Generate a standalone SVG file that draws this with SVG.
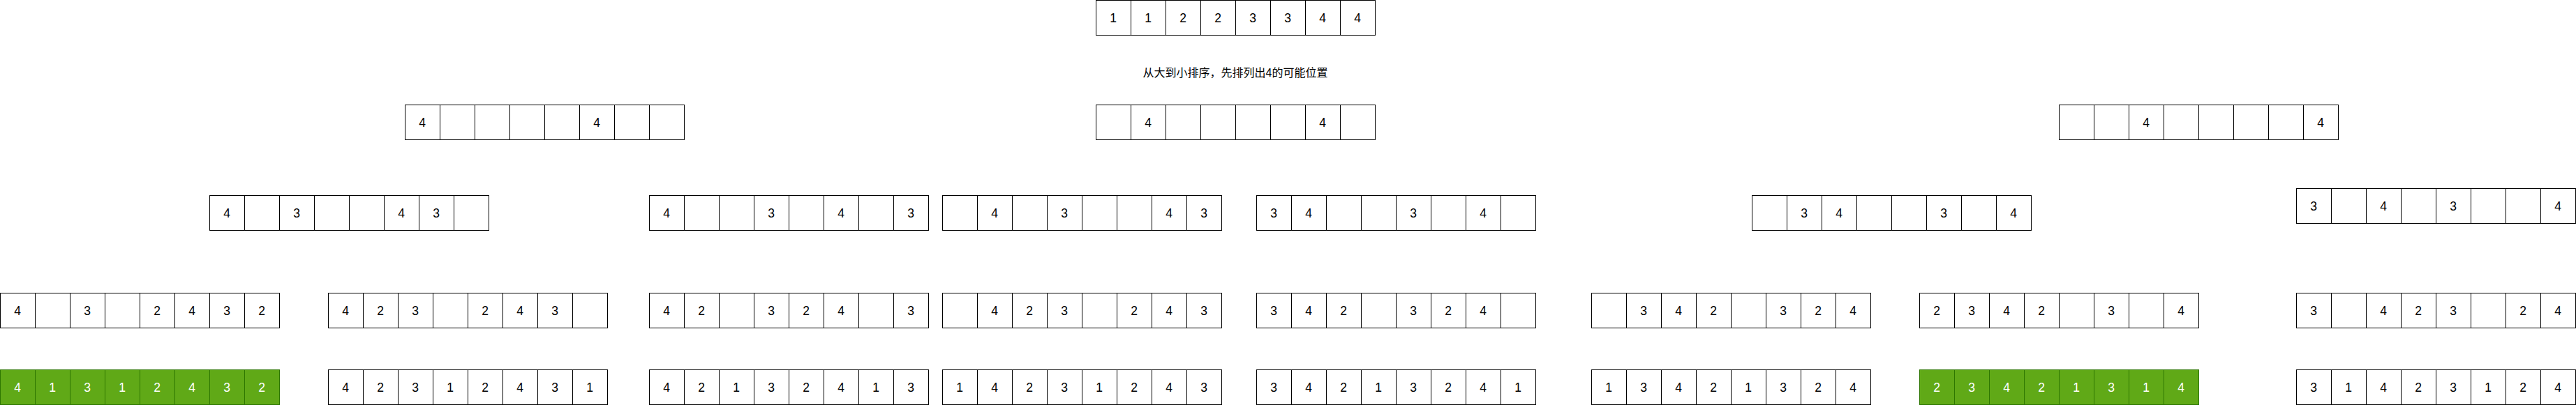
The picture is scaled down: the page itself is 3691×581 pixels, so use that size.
<svg xmlns="http://www.w3.org/2000/svg" xmlns:xlink="http://www.w3.org/1999/xlink" width="3691" height="581" viewBox="0 0 3691 581">
<style>
.w{fill:#ffffff;stroke:#000000;stroke-width:1}
.g{fill:#60a917;stroke:#2d7600;stroke-width:1}
text{font-family:"Liberation Sans",Arial,Helvetica,sans-serif;font-size:17.5px;text-anchor:middle}
.g ~ text, .tw{fill:#ffffff}
.tb{fill:#000000}
.cap{font-family:"Liberation Sans","Noto Sans CJK SC",sans-serif;font-size:16px;fill:#000000}
</style>
<defs>
<g id="cells">
<rect x="0.5" y="0.5" width="50" height="50"/>
<rect x="50.5" y="0.5" width="50" height="50"/>
<rect x="100.5" y="0.5" width="50" height="50"/>
<rect x="150.5" y="0.5" width="50" height="50"/>
<rect x="200.5" y="0.5" width="50" height="50"/>
<rect x="250.5" y="0.5" width="50" height="50"/>
<rect x="300.5" y="0.5" width="50" height="50"/>
<rect x="350.5" y="0.5" width="50" height="50"/>
</g>
</defs>
<rect width="3691" height="581" fill="#ffffff"/>

<g id="root" transform="translate(1570,0)"><use href="#cells" class="w"/><g class="tb"><text x="25" y="32">1</text><text x="75" y="32">1</text><text x="125" y="32">2</text><text x="175" y="32">2</text><text x="225" y="32">3</text><text x="275" y="32">3</text><text x="325" y="32">4</text><text x="375" y="32">4</text></g></g>

<g id="caption"><text class="cap" x="1770" y="110">从大到小排序，先排列出4的可能位置</text></g>

<g id="l2a" transform="translate(580,150)"><use href="#cells" class="w"/><g class="tb"><text x="25" y="32">4</text><text x="275" y="32">4</text></g></g>
<g id="l2b" transform="translate(1570,150)"><use href="#cells" class="w"/><g class="tb"><text x="75" y="32">4</text><text x="325" y="32">4</text></g></g>
<g id="l2c" transform="translate(2950,150)"><use href="#cells" class="w"/><g class="tb"><text x="125" y="32">4</text><text x="375" y="32">4</text></g></g>

<g id="l3a" transform="translate(300,280)"><use href="#cells" class="w"/><g class="tb"><text x="25" y="32">4</text><text x="125" y="32">3</text><text x="275" y="32">4</text><text x="325" y="32">3</text></g></g>
<g id="l3b" transform="translate(930,280)"><use href="#cells" class="w"/><g class="tb"><text x="25" y="32">4</text><text x="175" y="32">3</text><text x="275" y="32">4</text><text x="375" y="32">3</text></g></g>
<g id="l3c" transform="translate(1350,280)"><use href="#cells" class="w"/><g class="tb"><text x="75" y="32">4</text><text x="175" y="32">3</text><text x="325" y="32">4</text><text x="375" y="32">3</text></g></g>
<g id="l3d" transform="translate(1800,280)"><use href="#cells" class="w"/><g class="tb"><text x="25" y="32">3</text><text x="75" y="32">4</text><text x="225" y="32">3</text><text x="325" y="32">4</text></g></g>
<g id="l3e" transform="translate(2510,280)"><use href="#cells" class="w"/><g class="tb"><text x="75" y="32">3</text><text x="125" y="32">4</text><text x="275" y="32">3</text><text x="375" y="32">4</text></g></g>
<g id="l3f" transform="translate(3290,270)"><use href="#cells" class="w"/><g class="tb"><text x="25" y="32">3</text><text x="125" y="32">4</text><text x="225" y="32">3</text><text x="375" y="32">4</text></g></g>

<g id="l4a" transform="translate(0,420)"><use href="#cells" class="w"/><g class="tb"><text x="25" y="32">4</text><text x="125" y="32">3</text><text x="225" y="32">2</text><text x="275" y="32">4</text><text x="325" y="32">3</text><text x="375" y="32">2</text></g></g>
<g id="l4b" transform="translate(470,420)"><use href="#cells" class="w"/><g class="tb"><text x="25" y="32">4</text><text x="75" y="32">2</text><text x="125" y="32">3</text><text x="225" y="32">2</text><text x="275" y="32">4</text><text x="325" y="32">3</text></g></g>
<g id="l4c" transform="translate(930,420)"><use href="#cells" class="w"/><g class="tb"><text x="25" y="32">4</text><text x="75" y="32">2</text><text x="175" y="32">3</text><text x="225" y="32">2</text><text x="275" y="32">4</text><text x="375" y="32">3</text></g></g>
<g id="l4d" transform="translate(1350,420)"><use href="#cells" class="w"/><g class="tb"><text x="75" y="32">4</text><text x="125" y="32">2</text><text x="175" y="32">3</text><text x="275" y="32">2</text><text x="325" y="32">4</text><text x="375" y="32">3</text></g></g>
<g id="l4e" transform="translate(1800,420)"><use href="#cells" class="w"/><g class="tb"><text x="25" y="32">3</text><text x="75" y="32">4</text><text x="125" y="32">2</text><text x="225" y="32">3</text><text x="275" y="32">2</text><text x="325" y="32">4</text></g></g>
<g id="l4f" transform="translate(2280,420)"><use href="#cells" class="w"/><g class="tb"><text x="75" y="32">3</text><text x="125" y="32">4</text><text x="175" y="32">2</text><text x="275" y="32">3</text><text x="325" y="32">2</text><text x="375" y="32">4</text></g></g>
<g id="l4g" transform="translate(2750,420)"><use href="#cells" class="w"/><g class="tb"><text x="25" y="32">2</text><text x="75" y="32">3</text><text x="125" y="32">4</text><text x="175" y="32">2</text><text x="275" y="32">3</text><text x="375" y="32">4</text></g></g>
<g id="l4h" transform="translate(3290,420)"><use href="#cells" class="w"/><g class="tb"><text x="25" y="32">3</text><text x="125" y="32">4</text><text x="175" y="32">2</text><text x="225" y="32">3</text><text x="325" y="32">2</text><text x="375" y="32">4</text></g></g>

<g id="l5a" transform="translate(0,530)"><use href="#cells" class="g"/><g class="tw"><text x="25" y="32">4</text><text x="75" y="32">1</text><text x="125" y="32">3</text><text x="175" y="32">1</text><text x="225" y="32">2</text><text x="275" y="32">4</text><text x="325" y="32">3</text><text x="375" y="32">2</text></g></g>
<g id="l5b" transform="translate(470,530)"><use href="#cells" class="w"/><g class="tb"><text x="25" y="32">4</text><text x="75" y="32">2</text><text x="125" y="32">3</text><text x="175" y="32">1</text><text x="225" y="32">2</text><text x="275" y="32">4</text><text x="325" y="32">3</text><text x="375" y="32">1</text></g></g>
<g id="l5c" transform="translate(930,530)"><use href="#cells" class="w"/><g class="tb"><text x="25" y="32">4</text><text x="75" y="32">2</text><text x="125" y="32">1</text><text x="175" y="32">3</text><text x="225" y="32">2</text><text x="275" y="32">4</text><text x="325" y="32">1</text><text x="375" y="32">3</text></g></g>
<g id="l5d" transform="translate(1350,530)"><use href="#cells" class="w"/><g class="tb"><text x="25" y="32">1</text><text x="75" y="32">4</text><text x="125" y="32">2</text><text x="175" y="32">3</text><text x="225" y="32">1</text><text x="275" y="32">2</text><text x="325" y="32">4</text><text x="375" y="32">3</text></g></g>
<g id="l5e" transform="translate(1800,530)"><use href="#cells" class="w"/><g class="tb"><text x="25" y="32">3</text><text x="75" y="32">4</text><text x="125" y="32">2</text><text x="175" y="32">1</text><text x="225" y="32">3</text><text x="275" y="32">2</text><text x="325" y="32">4</text><text x="375" y="32">1</text></g></g>
<g id="l5f" transform="translate(2280,530)"><use href="#cells" class="w"/><g class="tb"><text x="25" y="32">1</text><text x="75" y="32">3</text><text x="125" y="32">4</text><text x="175" y="32">2</text><text x="225" y="32">1</text><text x="275" y="32">3</text><text x="325" y="32">2</text><text x="375" y="32">4</text></g></g>
<g id="l5g" transform="translate(2750,530)"><use href="#cells" class="g"/><g class="tw"><text x="25" y="32">2</text><text x="75" y="32">3</text><text x="125" y="32">4</text><text x="175" y="32">2</text><text x="225" y="32">1</text><text x="275" y="32">3</text><text x="325" y="32">1</text><text x="375" y="32">4</text></g></g>
<g id="l5h" transform="translate(3290,530)"><use href="#cells" class="w"/><g class="tb"><text x="25" y="32">3</text><text x="75" y="32">1</text><text x="125" y="32">4</text><text x="175" y="32">2</text><text x="225" y="32">3</text><text x="275" y="32">1</text><text x="325" y="32">2</text><text x="375" y="32">4</text></g></g>
</svg>
